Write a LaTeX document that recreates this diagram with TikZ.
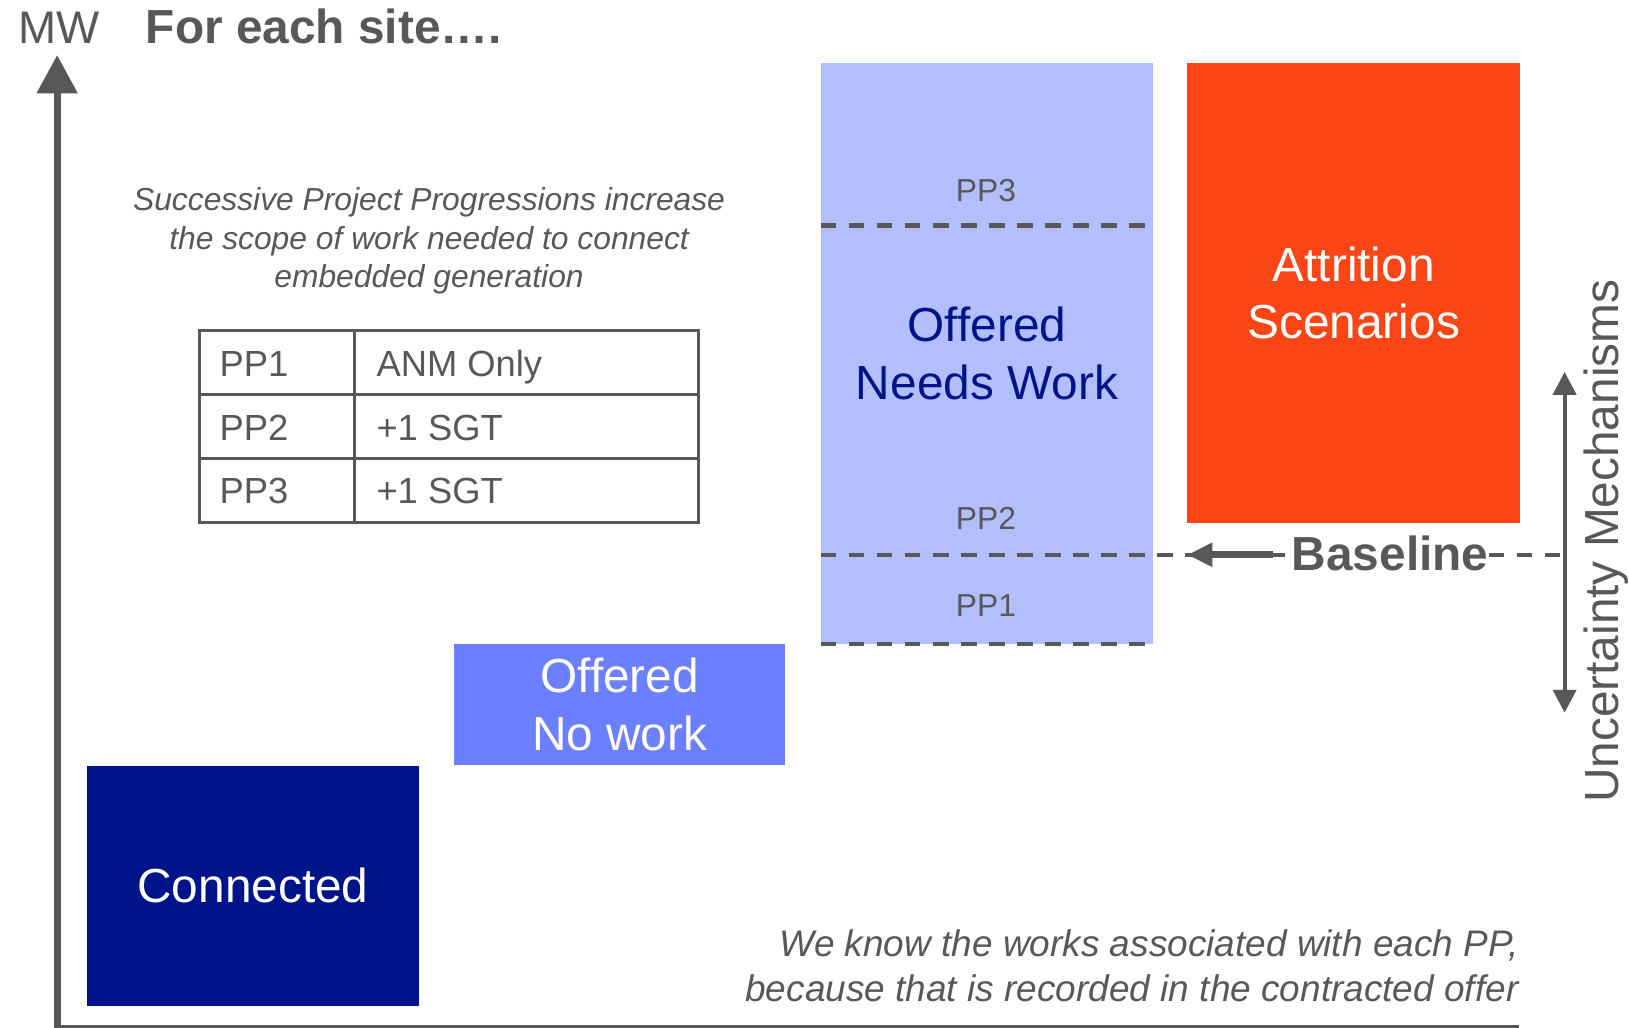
\documentclass[tikz,border=0pt]{standalone}
\usepackage{fontspec}
\setmainfont{Liberation Sans}
\usetikzlibrary{arrows.meta}
\definecolor{txtgray}{RGB}{88,88,90}
\definecolor{lightblue}{RGB}{179,191,252}
\definecolor{midblue}{RGB}{107,127,255}
\definecolor{navy}{RGB}{0,20,137}
\definecolor{orangered}{RGB}{250,70,22}
\begin{document}
\begin{tikzpicture}[x=0.5pt,y=-0.5pt,
  box/.style={anchor=north west, inner sep=0pt, outer sep=0pt, align=center,
    font=\fontsize{23}{27.75}\selectfont},
  dashln/.style={draw=txtgray, line width=2pt, dash pattern=on 7.5pt off 6pt},
  pplabel/.style={anchor=base, text=txtgray, inner sep=0pt, font=\fontsize{15.3}{18}\selectfont},
  tbltext/.style={anchor=base west, text=txtgray, inner sep=0pt, font=\fontsize{17.5}{21}\selectfont},
  topital/.style={anchor=base, text=txtgray, inner sep=0pt, font=\fontsize{15.3}{18}\selectfont\itshape},
  botital/.style={anchor=base east, text=txtgray, inner sep=0pt, font=\fontsize{17.8}{21}\selectfont\itshape},
  tbl/.style={draw=txtgray, line width=1.5pt}]
\useasboundingbox (0,0) rectangle (1568,989);

% axes
\coordinate (yO) at (55,989.5);
\coordinate (yTip) at (55,53);
\coordinate (xO) at (52,988);
\coordinate (xEnd) at (1462,988);
\draw[line width=3.5pt, txtgray, -{Triangle[width=19pt,length=18.5pt]}] (yO) -- (yTip);
\draw[line width=1.5pt, txtgray] (xO) -- (xEnd);

% titles
\node[anchor=base west, inner sep=0pt, text=txtgray, font=\fontsize{22}{26}\selectfont] (mw) at (17,42) {MW};
\node[anchor=base west, inner sep=0pt, text=txtgray, font=\fontsize{23}{27}\selectfont\bfseries] (title) at (140,42) {For each site….};

% top italic text
\node[topital] (it1) at (413,203) {Successive Project Progressions increase};
\node[topital] (it2) at (413,240) {the scope of work needed to connect};
\node[topital] (it3) at (413,277) {embedded generation};

% table
\draw[tbl] (192,318) rectangle (672,503);
\draw[tbl] (192,380) -- (672,380);
\draw[tbl] (192,441) -- (672,441);
\draw[tbl] (341,318) -- (341,503);
\node[tbltext] (t11) at (211,362) {PP1};
\node[tbltext] (t12) at (362,362) {ANM Only};
\node[tbltext] (t21) at (211,424) {PP2};
\node[tbltext] (t22) at (362,424) {+1 SGT};
\node[tbltext] (t31) at (211,485) {PP3};
\node[tbltext] (t32) at (362,485) {+1 SGT};

% boxes
\node[box, fill=navy, text=white, minimum width=159.5pt, minimum height=115.5pt] (conn) at (84,737) {Connected};
\node[box, fill=midblue, text=white, minimum width=159.5pt, minimum height=58pt] (nowork) at (437,620) {Offered\\No work};
\node[box, fill=lightblue, text=navy, minimum width=160pt, minimum height=279.5pt] (needs) at (790,61) {Offered\\Needs Work};
\node[box, fill=orangered, text=white, minimum width=160pt, minimum height=221pt] (attr) at (1143,61) {Attrition\\Scenarios};

% PP labels and dashed lines
\node[pplabel] (pp3) at (949,193.5) {PP3};
\node[pplabel] (pp2) at (949,509.5) {PP2};
\node[pplabel] (pp1) at (949,593) {PP1};
\coordinate (d3l) at (790,217);
\coordinate (d3r) at (1105,217);
\coordinate (d0l) at (790,620);
\coordinate (d0r) at (1105,620);
\draw[dashln] (d3l) -- (d3r);
\draw[dashln] (d0l) -- (d0r);

% baseline
\node[anchor=base west, inner sep=0pt, text=txtgray, font=\fontsize{23}{27}\selectfont\bfseries] (bl) at (1243,549) {Baseline};
\coordinate (b0) at (790,534);
\coordinate (bTip) at (1143,534);
\coordinate (bTail) at (1225,534);
\coordinate (uTop) at (1506,358);
\coordinate (uBot) at (1506,686);
\draw[dashln] (b0) -- (b0 -| bl.west);
\draw[dashln] (b0 -| bl.east) -- (b0 -| uTop);
\draw[line width=3.5pt, txtgray, -{Triangle[width=11pt,length=12pt]}] (bTail) -- (bTip);

% uncertainty
\draw[line width=2pt, txtgray, {Triangle[width=11pt,length=11pt]}-{Triangle[width=11pt,length=11pt]}] (uTop) -- (uBot);
\node[rotate=90, anchor=base, inner sep=0pt, text=txtgray, font=\fontsize{23}{27}\selectfont] (unc) at (1558,521) {Uncertainty Mechanisms};

% bottom italic text
\node[botital] (bi1) at (1462,921) {We know the works associated with each PP,};
\node[botital] (bi2) at (1462,964) {because that is recorded in the contracted offer};
\end{tikzpicture}
\end{document}
